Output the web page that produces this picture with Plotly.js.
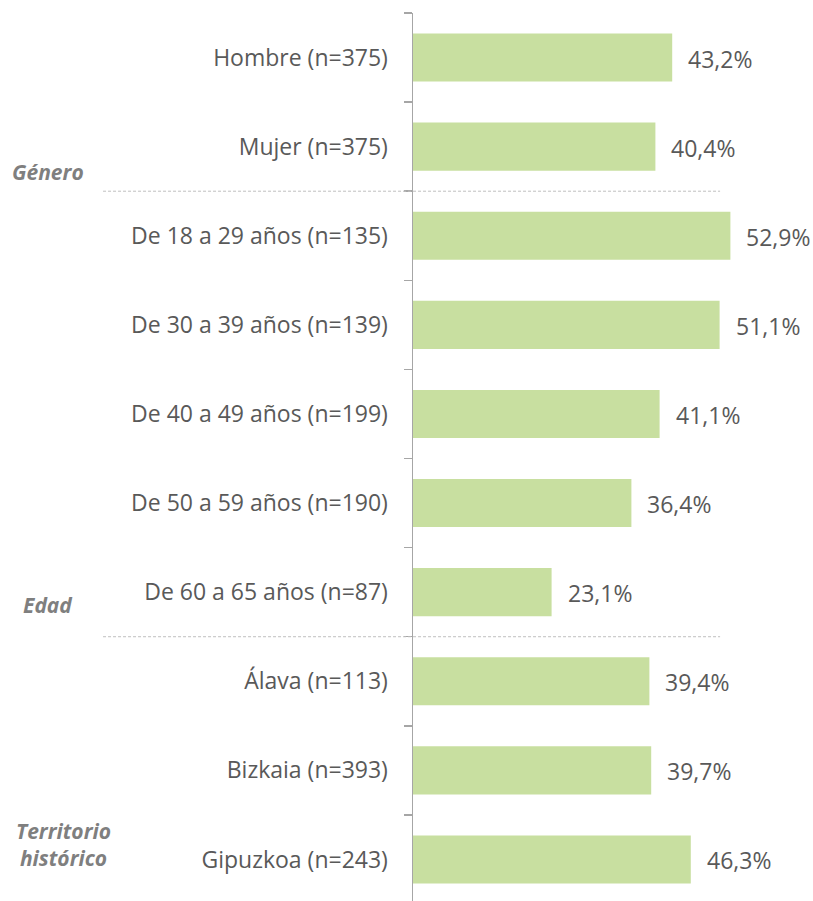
<!DOCTYPE html>
<html>
<head>
<meta charset="utf-8">
<script src="https://cdn.plot.ly/plotly-3.0.1.min.js"></script>
<style>html,body{margin:0;padding:0;overflow:hidden;background:#fff}</style>
</head>
<body>
<div id="chart" style="width:813px;height:901px"></div>
<script>
const categories = ["Hombre (n=375)", "Mujer (n=375)", "De 18 a 29 años (n=135)", "De 30 a 39 años (n=139)",
  "De 40 a 49 años (n=199)", "De 50 a 59 años (n=190)", "De 60 a 65 años (n=87)",
  "Álava (n=113)", "Bizkaia (n=393)", "Gipuzkoa (n=243)"];
const values = [43.2, 40.4, 52.9, 51.1, 41.1, 36.4, 23.1, 39.4, 39.7, 46.3];
const valueLabels = ["43,2%", "40,4%", "52,9%", "51,1%", "41,1%", "36,4%", "23,1%", "39,4%", "39,7%", "46,3%"];
const groupLabels = ["Género", "Edad", "Territorio<br>histórico"];
const groupLabelPos = [1.285, 6.144, 8.83];
const groupLabelX = [-1.014, -1.014, -0.972];
const separatorsAfter = [1.5, 6.5];

const fontFam = "'Open Sans', 'Noto Sans', sans-serif";
const textCol = "#595959";

const trace = {
  type: "bar",
  orientation: "h",
  y: categories,
  x: values,
  width: 0.54,
  marker: {color: "#C8DFA0", line: {width: 0}},
  hoverinfo: "none"
};

const annotations = values.map((v, i) => ({
  x: v, y: categories[i], xref: "x", yref: "y",
  text: valueLabels[i], showarrow: false, xanchor: "left", xshift: 14, yshift: -1,
  font: {family: fontFam, size: 23, color: textCol}
}));
groupLabels.forEach((g, i) => annotations.push({
  x: groupLabelX[i], y: groupLabelPos[i], xref: "paper", yref: "y",
  text: "<b><i>" + g + "</i></b>", showarrow: false, xanchor: "center", yanchor: "middle",
  font: {family: fontFam, size: 21, color: "#7f7f7f"}
}));

const shapes = separatorsAfter.map(s => ({
  type: "line", xref: "paper", yref: "y",
  x0: -0.861, x1: 0.853, y0: s, y1: s,
  line: {color: "#bfbfbf", width: 1, dash: "3px,2px"}
}));

const layout = {
  width: 813, height: 901,
  margin: {l: 413, r: 40, t: 13, b: 0, pad: 0},
  paper_bgcolor: "#ffffff", plot_bgcolor: "#ffffff",
  showlegend: false,
  xaxis: {range: [0, 60], visible: false, fixedrange: true},
  yaxis: {
    type: "category", categoryorder: "array", categoryarray: categories,
    range: [9.466, -0.5],
    showline: true, linecolor: "#a6a6a6", linewidth: 1.5,
    ticks: "outside", tickson: "boundaries", ticklen: 8, tickcolor: "#a6a6a6", tickwidth: 1.5,
    ticklabelstandoff: 19,
    tickfont: {family: fontFam, size: 23, color: textCol},
    showgrid: false, zeroline: false, fixedrange: true
  },
  annotations: annotations,
  shapes: shapes
};

Plotly.newPlot("chart", [trace], layout, {staticPlot: true, displayModeBar: false});
</script>
</body>
</html>
